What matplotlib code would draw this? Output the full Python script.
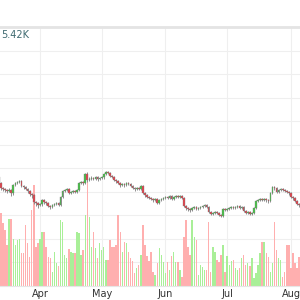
import numpy as np
import pandas as pd
import matplotlib
matplotlib.use('Agg')
import matplotlib.pyplot as plt
import matplotlib.dates as mdates

# daily candles, 12 Mar -> 5 Aug
dates = pd.date_range('2024-03-12', periods=147, freq='D')

opens = [2420, 2300, 2200, 2180, 2160, 2140, 2160, 2100, 2260, 2300,
         2320, 2340, 2240, 2220, 2180, 2140, 2080, 2060, 1920, 1900,
         1860, 1880, 1960, 1920, 1900, 1840, 1820, 1860, 1880, 1900,
         1860, 2020, 2140, 2160, 2180, 2100, 2120, 2140, 2120, 2160,
         2300, 2320, 2300, 2480, 2360, 2380, 2400, 2380, 2420, 2380,
         2400, 2420, 2480, 2520, 2500, 2440, 2420, 2360, 2340, 2300,
         2260, 2280, 2260, 2300, 2280, 2240, 2200, 2180, 2200, 2180,
         2240, 2100, 2060, 2020, 2000, 1980, 1960, 1980, 1900, 1960,
         1980, 2000, 2020, 2000, 2040, 1980, 2020, 2040, 2020, 2040,
         2000, 1840, 1800, 1780, 1760, 1800, 1820, 1780, 1800, 1820,
         1840, 1860, 1820, 1720, 1680, 1700, 1720, 1700, 1660, 1640,
         1780, 1760, 1780, 1800, 1820, 1800, 1820, 1840, 1800, 1820,
         1740, 1700, 1720, 1680, 1700, 1800, 1940, 1960, 1980, 1960,
         1980, 1960, 1940, 2100, 2220, 2200, 2120, 2160, 2180, 2160,
         2140, 2120, 2100, 2020, 2000, 1940, 1880]
highs = [2460, 2320, 2220, 2200, 2180, 2200, 2180, 2280, 2320, 2340,
         2360, 2360, 2260, 2240, 2200, 2160, 2100, 2080, 1940, 1920,
         1900, 1980, 1980, 1940, 1920, 1860, 1880, 1900, 1920, 1920,
         2040, 2160, 2180, 2200, 2200, 2140, 2160, 2160, 2180, 2320,
         2340, 2340, 2500, 2520, 2420, 2440, 2420, 2440, 2440, 2420,
         2440, 2500, 2540, 2540, 2520, 2460, 2440, 2380, 2360, 2320,
         2300, 2300, 2320, 2320, 2300, 2260, 2220, 2220, 2220, 2260,
         2260, 2120, 2080, 2040, 2020, 2000, 2000, 2000, 1980, 2000,
         2020, 2040, 2040, 2060, 2060, 2040, 2060, 2060, 2060, 2060,
         2020, 1860, 1820, 1800, 1820, 1840, 1840, 1820, 1840, 1860,
         1880, 1880, 1840, 1740, 1720, 1740, 1740, 1720, 1680, 1800,
         1800, 1800, 1820, 1840, 1840, 1840, 1860, 1860, 1840, 1840,
         1760, 1740, 1740, 1720, 1820, 1960, 1980, 2000, 2000, 2000,
         2000, 1980, 2120, 2240, 2240, 2220, 2180, 2200, 2200, 2180,
         2160, 2140, 2120, 2040, 2020, 1960, 1900]
lows = [2280, 2160, 2140, 2120, 2100, 2120, 2040, 2060, 2240, 2280,
        2300, 2220, 2180, 2160, 2100, 2040, 2000, 1880, 1840, 1800,
        1840, 1840, 1880, 1860, 1820, 1780, 1800, 1840, 1860, 1840,
        1840, 2000, 2120, 2140, 2080, 2080, 2100, 2100, 2100, 2140,
        2280, 2260, 2280, 2320, 2340, 2360, 2360, 2360, 2340, 2360,
        2380, 2380, 2460, 2480, 2420, 2400, 2340, 2300, 2280, 2220,
        2240, 2220, 2240, 2260, 2220, 2180, 2140, 2160, 2160, 2160,
        2080, 2020, 2000, 1980, 1960, 1920, 1940, 1880, 1880, 1940,
        1960, 1980, 1980, 1980, 1960, 1960, 2000, 2000, 2000, 1980,
        1820, 1760, 1740, 1720, 1740, 1780, 1760, 1760, 1780, 1800,
        1820, 1800, 1700, 1660, 1660, 1680, 1680, 1640, 1620, 1620,
        1740, 1740, 1760, 1780, 1780, 1780, 1800, 1780, 1780, 1720,
        1680, 1680, 1660, 1660, 1680, 1780, 1920, 1940, 1940, 1940,
        1920, 1900, 1920, 2080, 2160, 2100, 2100, 2140, 2140, 2120,
        2100, 2060, 2000, 1960, 1920, 1860, 1820]
closes = [2300, 2200, 2180, 2160, 2140, 2160, 2100, 2260, 2300, 2320,
          2340, 2240, 2220, 2180, 2140, 2080, 2060, 1920, 1900, 1860,
          1880, 1960, 1920, 1900, 1840, 1820, 1860, 1880, 1900, 1860,
          2020, 2140, 2160, 2180, 2100, 2120, 2140, 2120, 2160, 2300,
          2320, 2300, 2480, 2360, 2380, 2400, 2380, 2420, 2380, 2400,
          2420, 2480, 2520, 2500, 2440, 2420, 2360, 2340, 2300, 2260,
          2280, 2260, 2300, 2280, 2240, 2200, 2180, 2200, 2180, 2240,
          2100, 2060, 2020, 2000, 1980, 1960, 1980, 1900, 1960, 1980,
          2000, 2020, 2000, 2040, 1980, 2020, 2040, 2020, 2040, 2000,
          1840, 1800, 1780, 1760, 1800, 1820, 1780, 1800, 1820, 1840,
          1860, 1820, 1720, 1680, 1700, 1720, 1700, 1660, 1640, 1780,
          1760, 1780, 1800, 1820, 1800, 1820, 1840, 1800, 1820, 1740,
          1700, 1720, 1680, 1700, 1800, 1940, 1960, 1980, 1960, 1980,
          1960, 1940, 2100, 2220, 2200, 2120, 2160, 2180, 2160, 2140,
          2120, 2100, 2020, 2000, 1940, 1880, 1860]
volumes = [500,
           730, 630, 560, 410, 670, 670, 470, 410, 460, 470, 330, 330, 610, 430, 290, 760, 1010, 390,
           430, 470, 540, 540, 390, 290, 280, 140, 340, 230, 200, 660, 640, 310, 280, 370, 340, 330,
           330, 540, 530, 310, 360, 710, 1130, 690, 390, 540, 380, 280, 430, 360, 390, 260, 260, 460,
           390, 390, 410, 710, 540, 340, 440, 430, 340, 280, 250, 130, 180, 210, 310, 610, 410,
           300, 250,
           340, 140, 110, 230, 380, 310, 240, 130, 240, 160, 300, 340, 240, 240, 160, 90, 490, 660,
           390, 310, 660, 490, 460, 110, 210, 190, 160, 160, 640, 140, 390, 340, 260, 240, 310, 410,
           140, 300, 210, 250, 260, 180, 160, 180, 280, 310, 210, 230, 200, 280, 80, 130, 210, 330, 440,
           440, 330, 290, 140, 230, 640, 360, 280, 260, 90, 140, 410, 410, 180, 330, 230, 180, 290]

month_ticks = ['2024-04-01', '2024-05-01', '2024-06-01', '2024-07-01', '2024-08-01']
month_labels = ['Apr', 'May', 'Jun', 'Jul', 'Aug']
top_label = '5.42K'

o = np.array(opens, float)
h = np.array(highs, float)
l = np.array(lows, float)
c = np.array(closes, float)
v = np.array(volumes, float)
x = mdates.date2num(dates)
up = c >= o
vol_colors = ['#a9ef98' if u else '#ffafaf' for u in up]
body_colors = ['#45c345' if u else '#e5404a' for u in up]

fig = plt.figure(figsize=(3, 3), dpi=100)
ax = fig.add_axes([0, 14 / 300, 1, 259 / 300])

# volume at the bottom
ax.bar(x, v, width=0.7, color=vol_colors, linewidth=0, zorder=2)
ax.set_ylim(0, 2590)
ax.set_yticks(np.linspace(0, 2590, 12))
ax.set_yticklabels([])

x0 = mdates.date2num(pd.Timestamp('2024-03-12'))
ax.set_xlim(x0 + 0.55, x0 + 146.4)
ax.set_xticks(mdates.date2num(pd.to_datetime(month_ticks)))
ax.set_xticklabels(month_labels)
ax.tick_params(axis='x', length=0, pad=2, labelsize=7, colors='#333333')
ax.tick_params(axis='y', length=0)
ax.grid(True, color='#efefef', lw=0.8, zorder=0)
ax.set_axisbelow(True)
for s in ['left', 'right']:
    ax.spines[s].set_visible(False)
ax.spines['top'].set_color('#e4e4e4')
ax.spines['top'].set_linewidth(2)
ax.spines['bottom'].set_color('#e6e6e6')

# candles on top
pax = ax.twinx()
pax.set_ylim(240, 5420)
pax.vlines(x, l, h, color='#8f8f8f', lw=0.7, zorder=3)
pax.bar(x, np.abs(c - o), bottom=np.minimum(o, c), width=0.8,
        color=body_colors, edgecolor='#7a7a7a', linewidth=0.25, zorder=4)
pax.set_yticks([])
for s in pax.spines.values():
    s.set_visible(False)

fig.text(1 / 300, 1 - 35 / 300, top_label, fontsize=7, color='#3e6a70',
         ha='left', va='center')

fig.savefig('out.png', dpi=100)
